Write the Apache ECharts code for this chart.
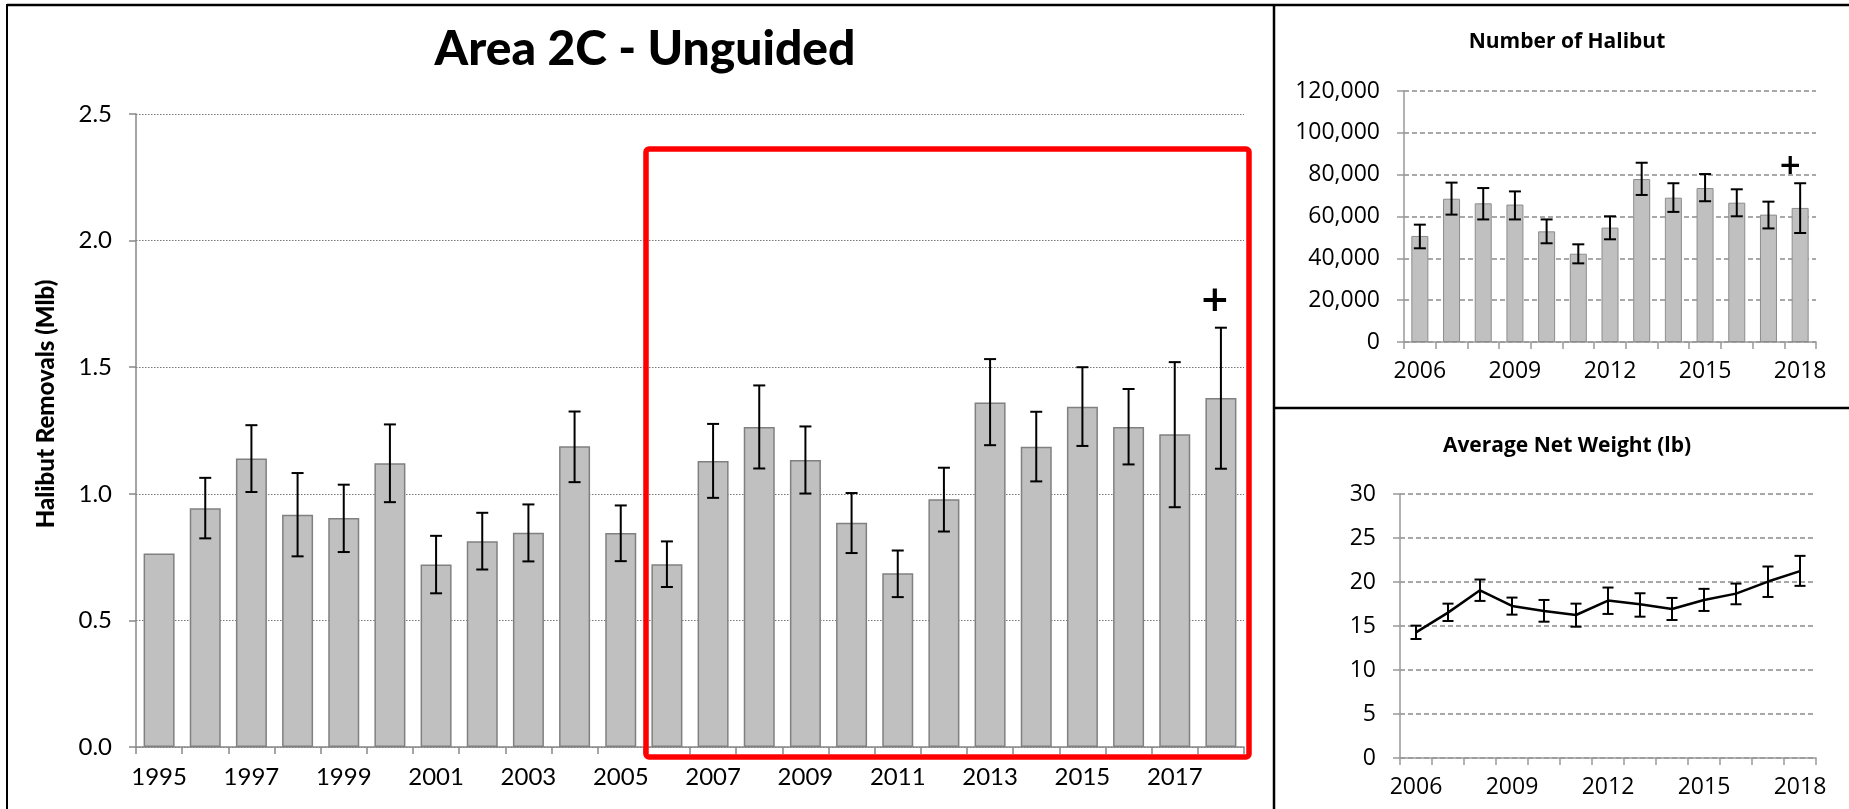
<!DOCTYPE html>
<html>
<head>
<meta charset="utf-8">
<title>Area 2C - Unguided</title>
<script src="https://cdn.jsdelivr.net/npm/echarts@6.0.0/dist/echarts.min.js"></script>
<style>
  html, body { margin: 0; padding: 0; background: #fff; }
  #chart { width: 1849px; height: 809px; }
</style>
</head>
<body>
<div id="chart"></div>
<script>
// main panel: removals by year (Mlb)
const years = ['1995', '1996', '1997', '1998', '1999', '2000', '2001', '2002', '2003', '2004', '2005', '2006',
  '2007', '2008', '2009', '2010', '2011', '2012', '2013', '2014', '2015', '2016', '2017', '2018']
const removals = [0.764, 0.943, 1.139, 0.917, 0.904, 1.121, 0.721, 0.813, 0.846, 1.188, 0.845, 0.722,
  1.130, 1.264, 1.133, 0.886, 0.686, 0.978, 1.361, 1.186, 1.344, 1.264, 1.235, 1.378]
const removalsLow = [null, 0.824, 1.007, 0.753, 0.770, 0.967, 0.607, 0.701, 0.733, 1.046, 0.734, 0.632,
  0.984, 1.100, 1.001, 0.766, 0.592, 0.851, 1.192, 1.049, 1.189, 1.116, 0.947, 1.099]
const removalsHigh = [null, 1.063, 1.271, 1.082, 1.036, 1.274, 0.834, 0.925, 0.958, 1.325, 0.954, 0.812,
  1.276, 1.428, 1.266, 1.003, 0.776, 1.103, 1.532, 1.324, 1.500, 1.414, 1.520, 1.656]
const removalsPlus = ['2018', 1.757]

// right panels: 2006-2018
const recentYears = ['2006', '2007', '2008', '2009', '2010', '2011', '2012', '2013', '2014', '2015', '2016', '2017', '2018']
const fishCount = [50700, 68500, 66300, 65700, 52900, 42200, 54700, 77900, 69000, 73600, 66600, 60900, 64100]
const fishCountLow = [44800, 60900, 58600, 58600, 47200, 37600, 49100, 70300, 62200, 67300, 60100, 54300, 52100]
const fishCountHigh = [56100, 76200, 73600, 72000, 58600, 46700, 60100, 85700, 75900, 80300, 73000, 67100, 75900]
const fishCountPlus = ['2018', 83700]

const netWeight = [14.28, 16.52, 19.06, 17.28, 16.71, 16.25, 17.89, 17.47, 16.94, 17.96, 18.68, 20.05, 21.23]
const netWeightLow = [13.52, 15.57, 17.85, 16.29, 15.49, 14.92, 16.37, 16.06, 15.68, 16.71, 17.47, 18.30, 19.56]
const netWeightHigh = [15.04, 17.54, 20.28, 18.23, 17.96, 17.54, 19.37, 18.72, 18.19, 19.22, 19.82, 21.76, 22.97]

const mainFont = 'Lato'
const sideFont = '"Open Sans"'

// error bars: [index, low, high]
function errorData(lows, highs) {
  const out = []
  lows.forEach((lo, i) => {
    if (lo != null) out.push([i, lo, highs[i]])
  })
  return out
}

function errorBar(cap, width) {
  return function (params, api) {
    const i = api.value(0)
    const hi = api.coord([i, api.value(2)])
    const lo = api.coord([i, api.value(1)])
    const style = { stroke: '#000', lineWidth: width }
    return {
      type: 'group',
      children: [
        { type: 'line', shape: { x1: hi[0], y1: hi[1], x2: lo[0], y2: lo[1] }, style },
        { type: 'line', shape: { x1: hi[0] - cap / 2, y1: hi[1], x2: hi[0] + cap / 2, y2: hi[1] }, style },
        { type: 'line', shape: { x1: lo[0] - cap / 2, y1: lo[1], x2: lo[0] + cap / 2, y2: lo[1] }, style }
      ]
    }
  }
}

function plusMark(size, dx) {
  return function (params, api) {
    const p = api.coord([api.value(0), api.value(1)])
    return {
      type: 'text',
      x: p[0] + dx,
      y: p[1],
      style: { text: '+', font: 'bold ' + size + 'px "DejaVu Sans"', fill: '#000', align: 'center', verticalAlign: 'middle' }
    }
  }
}

function catAxis(gridIndex, data, font, size, labelInterval, color) {
  return {
    type: 'category',
    gridIndex,
    data,
    boundaryGap: true,
    axisLine: { lineStyle: { color, width: 1.5 } },
    axisTick: { show: true, interval: 0, length: 7, lineStyle: { color, width: 1.5 } },
    axisLabel: { interval: labelInterval, fontFamily: font, fontSize: size, color: '#000', margin: 18 },
    splitLine: { show: false }
  }
}

function valAxis(gridIndex, max, interval, font, size, color, gridStyle, fmt) {
  return {
    type: 'value',
    gridIndex,
    min: 0,
    max,
    interval,
    axisLine: { show: true, lineStyle: { color, width: 1.5 } },
    axisTick: { show: true, length: 7, lineStyle: { color, width: 1.5 } },
    axisLabel: { fontFamily: font, fontSize: size, color: '#000', margin: 24, formatter: fmt },
    splitLine: { show: true, lineStyle: gridStyle }
  }
}

const chartInstance = echarts.init(document.getElementById('chart'))

const option = {
  backgroundColor: '#fff',
  animation: false,
  title: [
    {
      text: 'Area 2C - Unguided',
      left: 640, top: 21, textAlign: 'center',
      textStyle: { fontFamily: mainFont, fontSize: 48, fontWeight: 900, color: '#000' }
    },
    {
      text: 'Number of Halibut',
      left: 1562, top: 27, textAlign: 'center',
      textStyle: { fontFamily: sideFont, fontSize: 21, fontWeight: 'bold', color: '#000' }
    },
    {
      text: 'Average Net Weight (lb)',
      left: 1562, top: 431, textAlign: 'center',
      textStyle: { fontFamily: sideFont, fontSize: 21, fontWeight: 'bold', color: '#000' }
    }
  ],
  grid: [
    { left: 136, top: 114, width: 1108, height: 633, outerBoundsMode: 'none' },
    { left: 1404, top: 91, width: 412, height: 251, outerBoundsMode: 'none' },
    { left: 1400, top: 494, width: 416, height: 264, outerBoundsMode: 'none' }
  ],
  xAxis: [
    catAxis(0, years, mainFont, 24, 1, '#888'),
    catAxis(1, recentYears, sideFont, 23, 2, '#999'),
    catAxis(2, recentYears, sideFont, 23, 2, '#999')
  ],
  yAxis: [
    valAxis(0, 2.5, 0.5, mainFont, 24, '#888', { color: '#777', type: [1.5, 1.5], width: 1 }, v => v.toFixed(1)),
    valAxis(1, 120000, 20000, sideFont, 23, '#999', { color: '#8c8c8c', type: [5, 3], width: 1.5 }, v => v.toLocaleString('en-US')),
    valAxis(2, 30, 5, sideFont, 23, '#999', { color: '#8c8c8c', type: [5, 3], width: 1.5 }, v => String(v))
  ],
  series: [
    {
      name: 'Removals',
      type: 'bar',
      xAxisIndex: 0, yAxisIndex: 0,
      barWidth: 31,
      data: removals,
      itemStyle: { color: '#c0c0c0', borderColor: '#808080', borderWidth: 1.5 }
    },
    {
      type: 'custom',
      xAxisIndex: 0, yAxisIndex: 0,
      renderItem: errorBar(12, 2),
      encode: { x: 0, y: [1, 2] },
      data: errorData(removalsLow, removalsHigh),
      z: 3
    },
    {
      type: 'custom',
      xAxisIndex: 0, yAxisIndex: 0,
      renderItem: plusMark(36, -6),
      encode: { x: 0, y: 1 },
      data: [[years.indexOf(removalsPlus[0]), removalsPlus[1]]],
      z: 4
    },
    {
      name: 'Number of Halibut',
      type: 'bar',
      xAxisIndex: 1, yAxisIndex: 1,
      barWidth: 17,
      data: fishCount,
      itemStyle: { color: '#c0c0c0', borderColor: '#8c8c8c', borderWidth: 1 }
    },
    {
      type: 'custom',
      xAxisIndex: 1, yAxisIndex: 1,
      renderItem: errorBar(12, 2),
      encode: { x: 0, y: [1, 2] },
      data: errorData(fishCountLow, fishCountHigh),
      z: 3
    },
    {
      type: 'custom',
      xAxisIndex: 1, yAxisIndex: 1,
      renderItem: plusMark(28, -10),
      encode: { x: 0, y: 1 },
      data: [[recentYears.indexOf(fishCountPlus[0]), fishCountPlus[1]]],
      z: 4
    },
    {
      name: 'Average Net Weight',
      type: 'line',
      xAxisIndex: 2, yAxisIndex: 2,
      data: netWeight,
      symbol: 'none',
      lineStyle: { color: '#000', width: 2.5 }
    },
    {
      type: 'custom',
      xAxisIndex: 2, yAxisIndex: 2,
      renderItem: errorBar(11, 2),
      encode: { x: 0, y: [1, 2] },
      data: errorData(netWeightLow, netWeightHigh),
      z: 3
    }
  ],
  graphic: [
    // panel frame
    { type: 'line', shape: { x1: 7, y1: 5, x2: 1849, y2: 5 }, style: { stroke: '#000', lineWidth: 2.5 } },
    { type: 'line', shape: { x1: 7, y1: 4, x2: 7, y2: 809 }, style: { stroke: '#000', lineWidth: 2 } },
    { type: 'line', shape: { x1: 1274, y1: 4, x2: 1274, y2: 809 }, style: { stroke: '#000', lineWidth: 2.5 } },
    { type: 'line', shape: { x1: 1274, y1: 408, x2: 1849, y2: 408 }, style: { stroke: '#000', lineWidth: 2.5 } },
    // highlight box
    {
      type: 'rect',
      shape: { x: 646, y: 149, width: 603, height: 608, r: 3 },
      style: { fill: 'none', stroke: '#ff0000', lineWidth: 5.5 },
      z: 10
    },
    // y axis title
    {
      type: 'text',
      x: 46, y: 404,
      rotation: Math.PI / 2,
      style: {
        text: 'Halibut Removals (Mlb)',
        font: '900 24px Lato',
        fill: '#000',
        align: 'center',
        verticalAlign: 'middle'
      }
    }
  ]
}

chartInstance.setOption(option)
</script>
</body>
</html>
